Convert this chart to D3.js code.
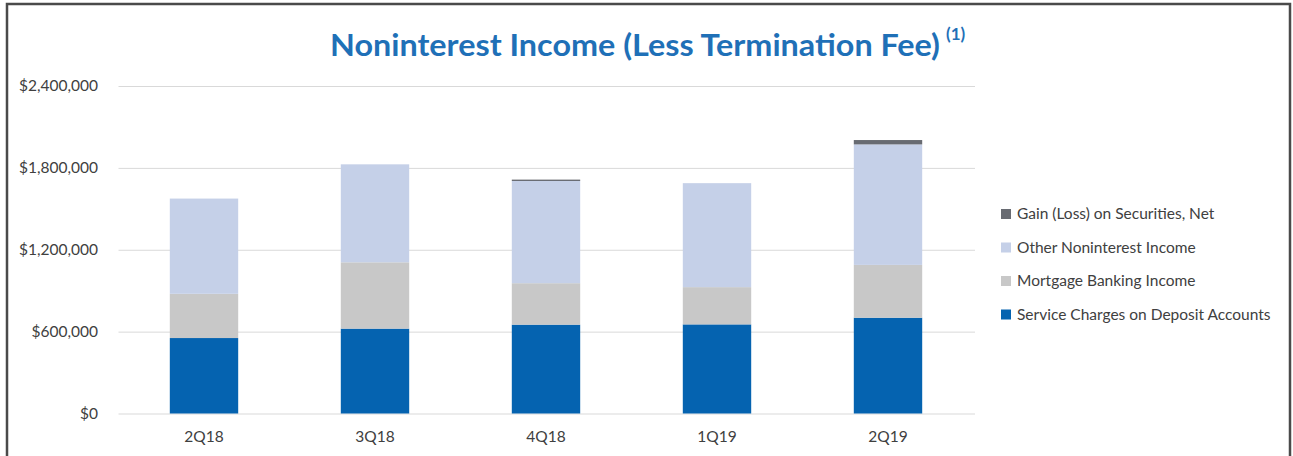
<html>

<head>
  <script src="https://d3js.org/d3.v7.min.js"></script>
  <style>
    body {
      margin: 0;
      background: #fff;
    }

    text {
      font-family: Lato, "Open Sans", sans-serif;
    }

    .gridlines line {
      stroke: #d9d9d9;
    }

    .gridlines .domain {
      stroke: none;
    }
  </style>
</head>

<body>
  <svg id="chart" width="1293" height="456"></svg>
  <script>
    const quarters = ["2Q18", "3Q18", "4Q18", "1Q19", "2Q19"];
    const serviceCharges = [553000, 622000, 651000, 653000, 702000];
    const mortgageBanking = [324000, 486000, 304000, 273000, 387000];
    const otherIncome = [698000, 718000, 749000, 762000, 883000];
    const securitiesGain = [0, 0, 10000, 0, 32000];
    const yTicks = [0, 600000, 1200000, 1800000, 2400000];

    const seriesNames = ["Service Charges on Deposit Accounts", "Mortgage Banking Income",
      "Other Noninterest Income", "Gain (Loss) on Securities, Net"];
    const seriesColors = ["#0563b0", "#c8c8c8", "#c5d0e8", "#686b72"];

    const svg = d3.select('#chart');
    const margin = { top: 86, left: 118.5, right: 319.5, bottom: 43 };
    const width = +svg.attr("width");
    const height = +svg.attr("height");

    // frame
    svg.append("path")
      .attr("d", `M7,${height} L7,4 L1290,4 L1290,${height}`)
      .style("fill", "none")
      .style("stroke", "#4a4a4a")
      .style("stroke-width", 2.5);

    const rows = quarters.map((q, i) => ({
      quarter: q,
      service: serviceCharges[i],
      mortgage: mortgageBanking[i],
      other: otherIncome[i],
      gain: securitiesGain[i]
    }));
    const keys = ["service", "mortgage", "other", "gain"];
    const stacked = d3.stack().keys(keys)(rows);

    const xScale = d3.scaleBand().domain(quarters)
      .range([margin.left, width - margin.right])
      .paddingInner(0.6).paddingOuter(0.3);
    const yScale = d3.scaleLinear().domain([0, 2400000])
      .range([413.5, margin.top]);

    const gridlines = d3.axisLeft(yScale).tickValues(yTicks)
      .tickSize(-(975 - margin.left)).tickFormat("");
    svg.append("g")
      .attr("class", "gridlines")
      .attr("transform", `translate(${margin.left},0)`)
      .call(gridlines);

    const fmt = d3.format(",");
    svg.append("g").selectAll("text")
      .data(yTicks)
      .join("text")
      .attr("x", 98)
      .attr("y", d => yScale(d))
      .attr("dy", "0.35em")
      .attr("text-anchor", "end")
      .style("font-size", "15.5px")
      .style("fill", "#404040")
      .text(d => "$" + fmt(d));

    svg.append("g").selectAll("text")
      .data(quarters)
      .join("text")
      .attr("x", d => xScale(d) + xScale.bandwidth() / 2)
      .attr("y", 442)
      .attr("text-anchor", "middle")
      .style("font-size", "15.5px")
      .style("fill", "#404040")
      .text(d => d);

    const layers = svg.append("g").selectAll("g")
      .data(stacked)
      .join("g")
      .style("fill", (d, i) => seriesColors[i]);
    layers.selectAll("rect")
      .data(d => d)
      .join("rect")
      .attr("x", d => xScale(d.data.quarter))
      .attr("width", xScale.bandwidth())
      .attr("y", d => yScale(d[1]))
      .attr("height", d => yScale(d[0]) - yScale(d[1]));

    // legend, drawn top to bottom in reverse series order
    const legend = svg.append("g").selectAll("g")
      .data(seriesNames.map((n, i) => ({ name: n, color: seriesColors[i] })).reverse())
      .join("g")
      .attr("transform", (d, i) => `translate(1001,${214 + i * 33.5})`);
    legend.append("rect")
      .attr("x", 0).attr("y", -5)
      .attr("width", 10).attr("height", 10)
      .style("fill", d => d.color);
    legend.append("text")
      .attr("x", 16)
      .attr("dy", "0.35em")
      .style("font-size", "15.5px")
      .style("fill", "#404040")
      .text(d => d.name);

    svg.append("text")
      .attr("x", 330)
      .attr("y", 56)
      .attr("textLength", 610)
      .attr("lengthAdjust", "spacingAndGlyphs")
      .style("font-size", "31px")
      .style("font-weight", "bold")
      .style("fill", "#1f70b7")
      .text("Noninterest Income (Less Termination Fee)");
    svg.append("text")
      .attr("x", 946)
      .attr("y", 40)
      .style("font-size", "17px")
      .style("font-weight", "bold")
      .style("fill", "#1f70b7")
      .text("(1)");
  </script>
</body>

</html>
